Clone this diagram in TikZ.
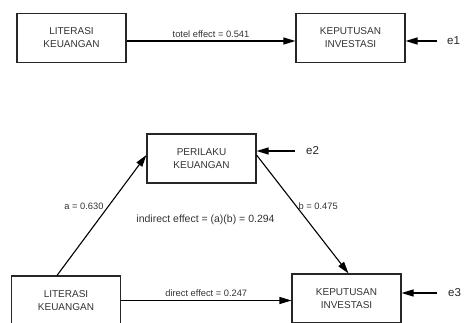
\documentclass[tikz,border=0pt]{standalone}
\usepackage{fontspec}
\setmainfont{Liberation Sans}
\usetikzlibrary{arrows.meta,positioning}

\begin{document}
\begin{tikzpicture}[x=1pt, y=-1pt,
    box/.style={draw=black!85, line width=1.1pt, minimum width=109pt, minimum height=49pt,
      align=center, inner sep=0pt, text=black!80, font=\fontsize{10}{13}\selectfont},
    lbl/.style={text=black!80, font=\fontsize{9.3}{11}\selectfont, inner sep=1pt},
    err/.style={text=black!85, font=\fontsize{11.5}{13}\selectfont, inner sep=0pt, anchor=west},
    arr/.style={draw=black, line width=1.1pt, -{Triangle[length=12pt,width=7pt]}}]
  \path[use as bounding box, clip] (0,0) rectangle (464,322);

  % total effect
  \begin{scope}
    \node[box] (lk1) at (71.5,38) {LITERASI\\KEUANGAN};
    \node[box] (ki1) at (350.5,38) {KEPUTUSAN\\INVESTASI};
    \node[err] (e1) at (447,41) {e1};
    \draw[arr] ([yshift=-3pt]lk1.east) -- node[lbl, above=2pt] {totel effect = 0.541} ([yshift=-3pt]ki1.west);
    \draw[arr] ([xshift=-10pt]e1.west) -- (ki1.east |- e1.west);
  \end{scope}

  % mediation
  \begin{scope}
    \node[box] (pk) at (201.5,158.5) {PERILAKU\\KEUANGAN};
    \node[box] (lk2) at (66,300.5) {LITERASI\\KEUANGAN};
    \node[box] (ki2) at (346.5,298.5) {KEPUTUSAN\\INVESTASI};
    \node[err] (e2) at (306,151) {e2};
    \node[err] (e3) at (448,293) {e3};
    \node[lbl, font=\fontsize{10.5}{12}\selectfont] (ind) at (205.5,220) {indirect effect = (a)(b) = 0.294};
    \draw[arr] ([xshift=-9pt]lk2.north) -- node[lbl, pos=.57, left=3pt] {a = 0.630} ([yshift=3.5pt]pk.west);
    \draw[arr] ([yshift=3.5pt]pk.east) -- node[lbl, pos=.43, right=1pt] {b = 0.475} ([xshift=2pt]ki2.north);
    \draw[arr] (lk2.east) -- node[lbl, above=2pt] {direct effect = 0.247} (lk2.east -| ki2.west);
    \draw[arr] ([xshift=-11pt]e2.west) -- (pk.east |- e2.west);
    \draw[arr] ([xshift=-11pt]e3.west) -- (ki2.east |- e3.west);
  \end{scope}
\end{tikzpicture}
\end{document}
